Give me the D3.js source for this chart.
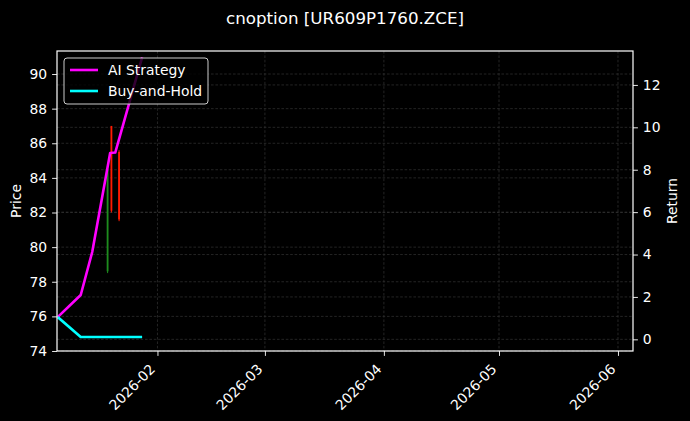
<!DOCTYPE html>
<html>
<head>
<meta charset="utf-8">
<script src="https://cdn.jsdelivr.net/npm/d3@7"></script>
<style>
  html, body { margin: 0; padding: 0; background: #000; }
  svg { display: block; }
  text { font-family: "DejaVu Sans", sans-serif; fill: #fff; }
</style>
</head>
<body>
<svg id="chart" width="690" height="421"></svg>
<script>
// ---- data ----
const title = "cnoption [UR609P1760.ZCE]";
const lineDates = ["2026-01-06", "2026-01-12", "2026-01-15", "2026-01-19T16:00", "2026-01-21", "2026-01-28"];
const aiStrategy = [1.05, 2.09, 4.12, 8.79, 8.81, 13.3];
const buyHoldDates = ["2026-01-06", "2026-01-12", "2026-01-28"];
const buyAndHold = [1.05, 0.11, 0.11];
const candleDates = ["2026-01-19", "2026-01-20", "2026-01-22"];
const candleOpen  = [78.6, 87.0, 85.5];
const candleHigh  = [84.6, 87.0, 85.6];
const candleLow   = [78.5, 82.0, 81.5];
const candleClose = [84.5, 82.1, 81.6];
const xTickDates = ["2026-02-01", "2026-03-01", "2026-04-01", "2026-05-01", "2026-06-01"];
const priceTicks = [74, 76, 78, 80, 82, 84, 86, 88, 90];
const returnTicks = [0, 2, 4, 6, 8, 10, 12];
const xDomain = ["2026-01-05T19:40", "2026-06-04T22:00"];
const priceDomain = [74, 91.33];
const returnDomain = [-0.55, 13.6];

// ---- layout ----
const L = 57, R = 633, T = 51, B = 351;
const parse = s => new Date(s + (s.length > 10 ? ":00Z" : "T00:00:00Z"));
const svg = d3.select("#chart");
svg.append("rect").attr("width", 690).attr("height", 421).attr("fill", "#000");

const x = d3.scaleUtc().domain(xDomain.map(parse)).range([L, R]);
const yP = d3.scaleLinear().domain(priceDomain).range([B, T]);
const yR = d3.scaleLinear().domain(returnDomain).range([B, T]);

const fs = 13.9;

// grid
const grid = svg.append("g").attr("stroke", "#333").attr("stroke-width", 0.7)
  .attr("stroke-dasharray", "2.6,1.8");
xTickDates.map(parse).forEach(d => grid.append("line")
  .attr("x1", x(d)).attr("x2", x(d)).attr("y1", T).attr("y2", B));
priceTicks.forEach(v => grid.append("line")
  .attr("x1", L).attr("x2", R).attr("y1", yP(v)).attr("y2", yP(v)));
returnTicks.forEach(v => grid.append("line")
  .attr("x1", L).attr("x2", R).attr("y1", yR(v)).attr("y2", yR(v)));

// clip
svg.append("clipPath").attr("id", "plotclip").append("rect")
  .attr("x", L).attr("y", T).attr("width", R - L).attr("height", B - T);
const plot = svg.append("g").attr("clip-path", "url(#plotclip)");

// candles
candleDates.forEach((ds, i) => {
  const d = parse(ds);
  const up = candleClose[i] >= candleOpen[i];
  const col = up ? "#1e8c1e" : "#ff1a00";
  plot.append("line").attr("x1", x(d)).attr("x2", x(d))
    .attr("y1", yP(candleHigh[i])).attr("y2", yP(candleLow[i]))
    .attr("stroke", col).attr("stroke-width", 1);
  const top = yP(Math.max(candleOpen[i], candleClose[i]));
  const bot = yP(Math.min(candleOpen[i], candleClose[i]));
  plot.append("rect").attr("x", x(d) - 0.9).attr("width", 1.8)
    .attr("y", top).attr("height", Math.max(0.5, bot - top)).attr("fill", col);
});

// lines (return axis)
const lineGen = d3.line().x(d => x(d[0])).y(d => yR(d[1]));
const aiData = lineDates.map((d, i) => [parse(d), aiStrategy[i]]);
const bhData = buyHoldDates.map((d, i) => [parse(d), buyAndHold[i]]);
plot.append("path").datum(aiData).attr("d", lineGen)
  .attr("fill", "none").attr("stroke", "#ff00ff").attr("stroke-width", 2.6)
  .attr("stroke-linejoin", "round");
plot.append("path").datum(bhData).attr("d", lineGen)
  .attr("fill", "none").attr("stroke", "#00ffff").attr("stroke-width", 2.6)
  .attr("stroke-linejoin", "round");

// axes
const axStyle = g => {
  g.select(".domain").remove();
  g.selectAll(".tick line").attr("stroke", "#fff").attr("stroke-width", 0.9);
  g.selectAll(".tick text").attr("fill", "#fff")
    .style("font-family", "DejaVu Sans, sans-serif").style("font-size", fs + "px");
};
svg.append("g").attr("transform", `translate(${L},0)`)
  .call(d3.axisLeft(yP).tickValues(priceTicks).tickSize(4.9).tickPadding(4.9))
  .call(axStyle);
svg.append("g").attr("transform", `translate(${R},0)`)
  .call(d3.axisRight(yR).tickValues(returnTicks).tickSize(4.9).tickPadding(4.9))
  .call(axStyle);
const xa = svg.append("g").attr("transform", `translate(0,${B})`)
  .call(d3.axisBottom(x).tickValues(xTickDates.map(parse)).tickSize(4.9)
    .tickFormat(d3.utcFormat("%Y-%m")))
  .call(axStyle);
xa.selectAll(".tick text")
  .attr("text-anchor", "end")
  .attr("y", 0).attr("dy", 0)
  .attr("transform", "translate(-2,19) rotate(-45)");

// spines
svg.append("rect").attr("x", L).attr("y", T).attr("width", R - L).attr("height", B - T)
  .attr("fill", "none").attr("stroke", "#fff").attr("stroke-width", 1.2);

// axis labels
svg.append("text").attr("transform", `translate(21,${(T + B) / 2}) rotate(-90)`)
  .attr("text-anchor", "middle").style("font-size", fs + "px").text("Price");
svg.append("text").attr("transform", `translate(677,${(T + B) / 2}) rotate(-90)`)
  .attr("text-anchor", "middle").style("font-size", fs + "px").text("Return");

// title
svg.append("text").attr("x", 345).attr("y", 24).attr("text-anchor", "middle")
  .style("font-size", "16.7px").text(title);

// legend
const lg = svg.append("g");
lg.append("rect").attr("x", 64).attr("y", 58).attr("width", 144).attr("height", 46)
  .attr("rx", 3).attr("fill", "#000").attr("fill-opacity", 0.8)
  .attr("stroke", "#ccc").attr("stroke-width", 1);
const items = [["AI Strategy", "#ff00ff"], ["Buy-and-Hold", "#00ffff"]];
items.forEach(([name, col], i) => {
  const yy = 70 + i * 21;
  lg.append("line").attr("x1", 70).attr("x2", 98).attr("y1", yy).attr("y2", yy)
    .attr("stroke", col).attr("stroke-width", 2.6);
  lg.append("text").attr("x", 108).attr("y", yy + 5).style("font-size", fs + "px").text(name);
});
</script>
</body>
</html>
